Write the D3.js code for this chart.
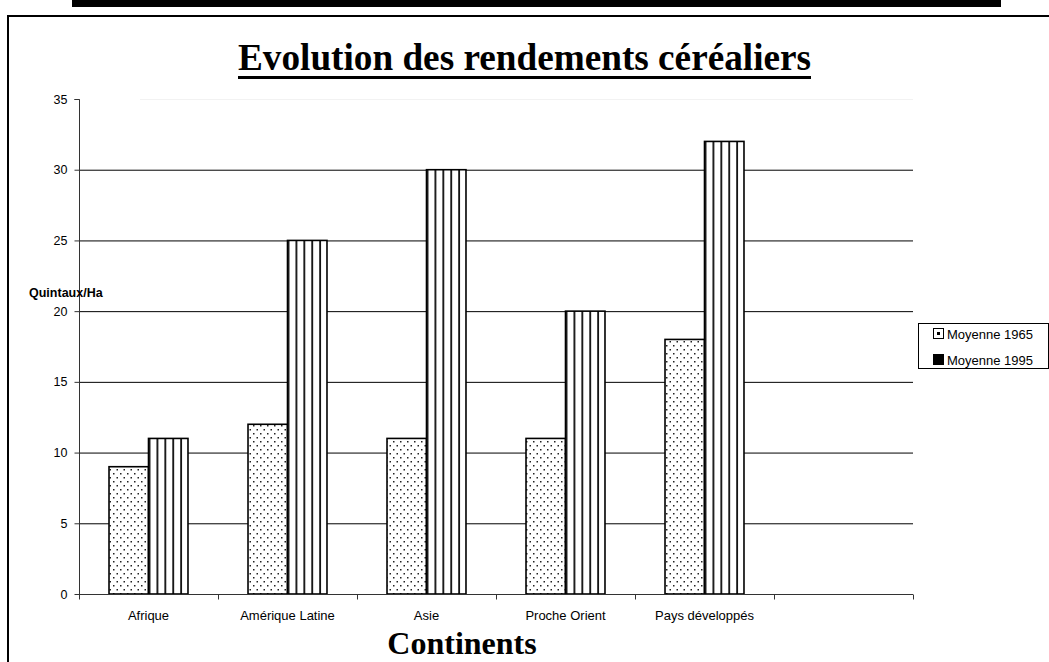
<!DOCTYPE html>
<html><head><meta charset="utf-8">
<script src="https://cdn.jsdelivr.net/npm/d3@7"></script>
<style>body{margin:0;background:#fff;} svg{display:block;}</style>
</head><body>
<svg id="c" width="1049" height="662"></svg>
<script>
const categories = ["Afrique", "Amérique Latine", "Asie", "Proche Orient", "Pays développés", ""];
const series = ["Moyenne 1965", "Moyenne 1995"];
const values1965 = [9, 12, 11, 11, 18];
const values1995 = [11, 25, 30, 20, 32];
const yTicks = [0, 5, 10, 15, 20, 25, 30, 35];
const title = "Evolution des rendements céréaliers";
const xTitle = "Continents";
const yTitle = "Quintaux/Ha";

const svg = d3.select("#c");
const defs = svg.append("defs");

// dot pattern
const dot = defs.append("pattern").attr("id","dots").attr("patternUnits","userSpaceOnUse")
  .attr("width",7).attr("height",8);
dot.append("rect").attr("width",7).attr("height",8).attr("fill","#fff");
dot.append("rect").attr("x",1).attr("y",1).attr("width",1.5).attr("height",1.5).attr("fill","#222");
dot.append("rect").attr("x",4.5).attr("y",5).attr("width",1.5).attr("height",1.5).attr("fill","#222");

// stripe pattern (relative to bar)
const str = defs.append("pattern").attr("id","stripes").attr("patternUnits","objectBoundingBox")
  .attr("x",0).attr("y",0).attr("width",0.2).attr("height",1);
str.append("rect").attr("width",50).attr("height",2000).attr("fill","#fff");
str.append("rect").attr("x",0.2).attr("y",0).attr("width",1.7).attr("height",2000).attr("fill","#000");

// outer decoration
svg.append("rect").attr("x",72).attr("y",0).attr("width",929).attr("height",7).attr("fill","#000");
svg.append("path").attr("d","M8,662 V16 H1049").attr("fill","none").attr("stroke","#000").attr("stroke-width",2);

const x = d3.scaleBand().domain(categories).range([79, 913]).paddingInner(0).paddingOuter(0);
const xs = d3.scaleBand().domain(series).range([0, x.bandwidth()]).paddingInner(0).paddingOuter(0.76);
const y = d3.scaleLinear().domain([0, 35]).range([594, 99]);

// grid
svg.append("g").selectAll("line").data(yTicks.filter(t => t > 0)).join("line")
  .attr("x1", d => d === 35 ? 140 : 79).attr("x2", 913)
  .attr("y1", d => y(d) + 0.5).attr("y2", d => y(d) + 0.5)
  .attr("stroke", d => d === 35 ? "#f2f2f2" : "#000").attr("stroke-width", 1);

// bars
const data = categories.slice(0,5).map((c,i) => ({c, v: [values1965[i], values1995[i]]}));
const g = svg.append("g");
data.forEach(d => {
  series.forEach((s, j) => {
    g.append("rect")
      .attr("x", x(d.c) + xs(s))
      .attr("y", y(d.v[j]))
      .attr("width", xs.bandwidth())
      .attr("height", y(0) - y(d.v[j]))
      .attr("fill", j === 0 ? "url(#dots)" : "url(#stripes)")
      .attr("stroke", "#000").attr("stroke-width", 1.6);
  });
});

// y axis
const ya = svg.append("g").attr("transform","translate(79.5,0)")
  .call(d3.axisLeft(y).tickValues(yTicks).tickSize(5).tickPadding(7).tickFormat(d3.format("d")));
ya.select(".domain").attr("stroke","#333").attr("d","M-5,"+(y(35)+0.5)+"H0V"+(y(0)+0.5));
ya.selectAll(".tick line").attr("stroke","#333");
ya.selectAll("text").attr("font-family","Liberation Sans, Arial, sans-serif").attr("font-size",12.5).attr("fill","#000");

// x axis
const xa = svg.append("g").attr("transform","translate(0,"+(y(0)+0.5)+")");
xa.append("line").attr("x1",79).attr("x2",913).attr("stroke","#333");
xa.selectAll(".tk").data(categories.map(c => x(c)).concat([913])).join("line")
  .attr("x1", d => Math.round(d)+0.5).attr("x2", d => Math.round(d)+0.5).attr("y1",0).attr("y2",5).attr("stroke","#333");
xa.selectAll("text").data(categories).join("text")
  .attr("x", d => x(d) + x.bandwidth()/2).attr("y", 25)
  .attr("text-anchor","middle").attr("font-family","Liberation Sans, Arial, sans-serif").attr("font-size",13)
  .text(d => d);

// titles
svg.append("text").attr("x",238).attr("y",70)
  .attr("font-family","Liberation Serif, Times New Roman, serif").attr("font-weight","bold").attr("font-size",38)
  .attr("textLength",573).attr("lengthAdjust","spacingAndGlyphs").text(title);
svg.append("rect").attr("x",238).attr("y",76).attr("width",573).attr("height",3).attr("fill","#000");

svg.append("text").attr("x",462).attr("y",654).attr("text-anchor","middle")
  .attr("font-family","Liberation Serif, Times New Roman, serif").attr("font-weight","bold").attr("font-size",32)
  .text(xTitle);

svg.append("text").attr("x",29).attr("y",297)
  .attr("font-family","Liberation Sans, Arial, sans-serif").attr("font-weight","bold").attr("font-size",12.5)
  .text(yTitle);

// legend
const lg = svg.append("g");
lg.append("rect").attr("x",918.5).attr("y",323.5).attr("width",130).attr("height",45)
  .attr("fill","#fff").attr("stroke","#000").attr("stroke-width",1);
series.forEach((s, j) => {
  const cy = 334 + j*26;
  lg.append("rect").attr("x",933.5).attr("y",cy-5.5).attr("width",10).attr("height",10)
    .attr("fill", j === 0 ? "#fff" : "#000").attr("stroke","#000").attr("stroke-width",1);
  if (j === 0) lg.append("rect").attr("x",937).attr("y",cy-2).attr("width",3).attr("height",3).attr("fill","#000");
  lg.append("text").attr("x",947).attr("y",cy+4.5)
    .attr("font-family","Liberation Sans, Arial, sans-serif").attr("font-size",13).text(s);
});
</script>
</body></html>
